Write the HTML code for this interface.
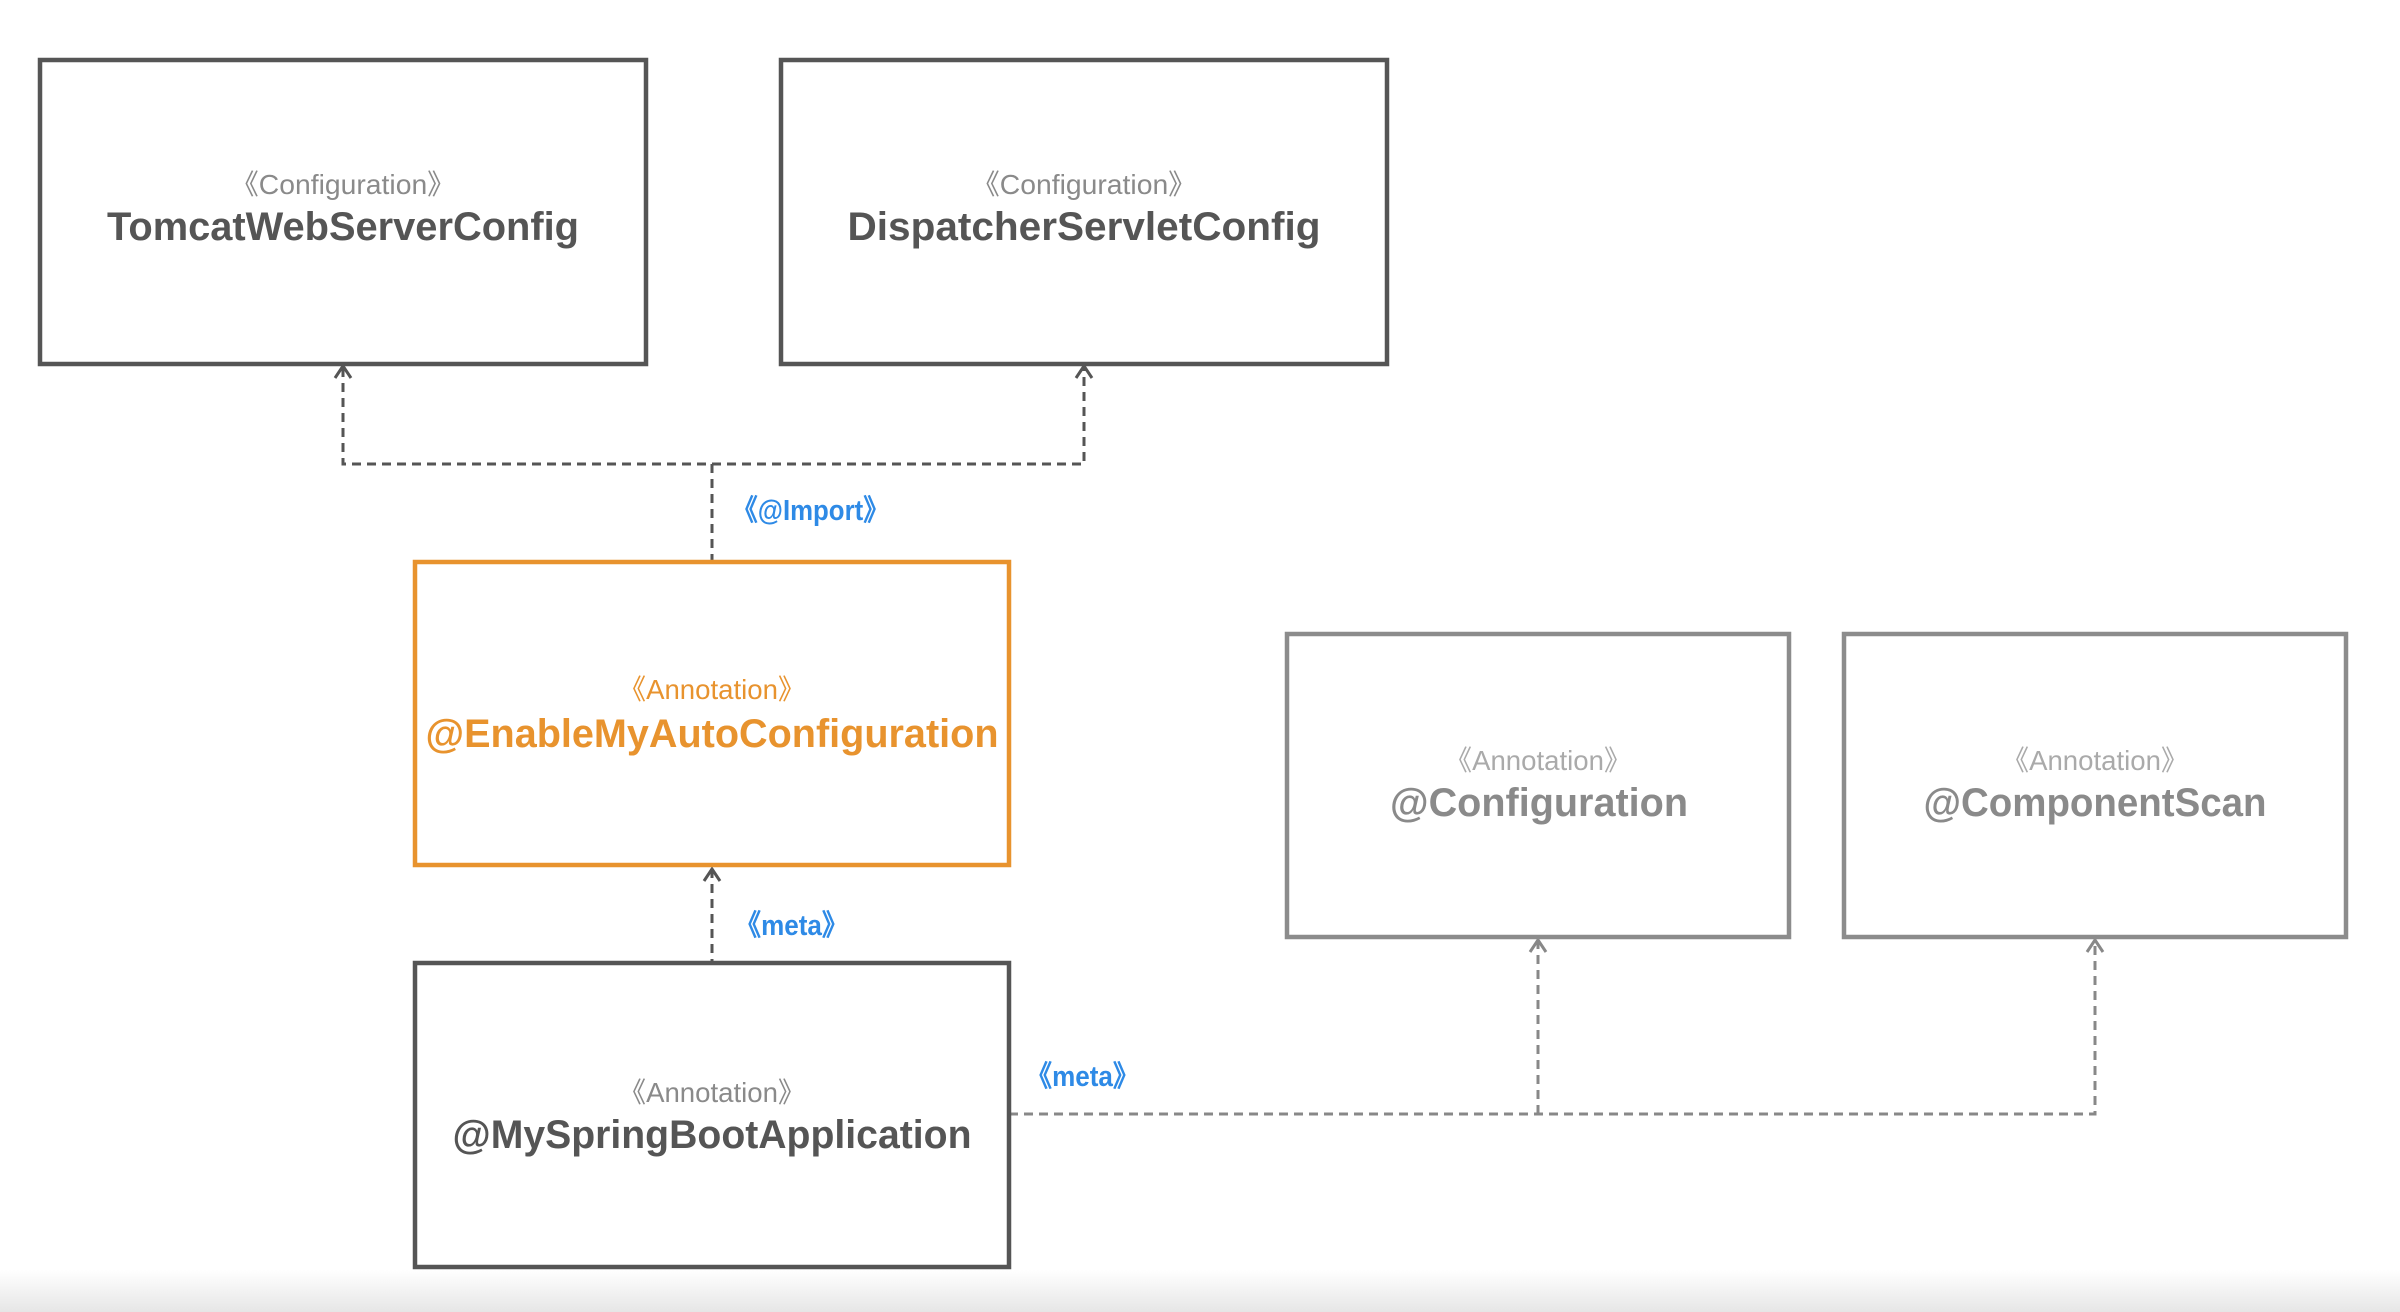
<!DOCTYPE html>
<html><head><meta charset="utf-8"><style>
html,body{margin:0;padding:0;background:#fff;width:2400px;height:1312px;overflow:hidden}
svg{display:block}
text{font-family:"Liberation Sans",sans-serif;text-anchor:middle}
text.lbl{text-anchor:start}
</style></head><body>
<svg width="2400" height="1312" viewBox="0 0 2400 1312">
<defs>
<linearGradient id="bg" x1="0" y1="0" x2="0" y2="1"><stop offset="0" stop-color="#fff"/><stop offset="1" stop-color="#e6e6e6"/></linearGradient>
</defs>
<rect x="0" y="1270" width="2400" height="42" fill="url(#bg)"/>
<g fill="none" stroke="#555" stroke-width="3" stroke-dasharray="9,6">
<polyline points="343,368 343,464 1084,464 1084,368"/>
<line x1="712" y1="464" x2="712" y2="562"/>
<line x1="712" y1="869" x2="712" y2="963"/>
</g>
<g fill="none" stroke="#888" stroke-width="3" stroke-dasharray="9,6">
<polyline points="1009,1114 2095,1114 2095,941"/>
<line x1="1538" y1="1114" x2="1538" y2="941"/>
</g>
<g fill="none" stroke="#555" stroke-width="3">
<polyline points="335,378 343,366 351,378"/>
<polyline points="1076,378 1084,366 1092,378"/>
<polyline points="704,881 712,869 720,881"/>
</g>
<g fill="none" stroke="#888" stroke-width="3">
<polyline points="1530,952 1538,940 1546,952"/>
<polyline points="2087,952 2095,940 2103,952"/>
</g>
<rect x="40" y="60" width="606" height="304" fill="none" stroke="#555" stroke-width="4.5"/>
<rect x="781" y="60" width="606" height="304" fill="none" stroke="#555" stroke-width="4.5"/>
<rect x="415" y="562" width="594" height="303" fill="none" stroke="#e8932e" stroke-width="4.5"/>
<rect x="415" y="963" width="594" height="304" fill="none" stroke="#555" stroke-width="4.5"/>
<rect x="1287" y="634" width="502" height="303" fill="none" stroke="#8c8c8c" stroke-width="4.5"/>
<rect x="1844" y="634" width="502" height="303" fill="none" stroke="#8c8c8c" stroke-width="4.5"/>
<g font-size="28" fill="#8a8a8a">
<text x="343" y="194" textLength="225" lengthAdjust="spacingAndGlyphs">《Configuration》</text>
<text x="1084" y="194" textLength="225" lengthAdjust="spacingAndGlyphs">《Configuration》</text>
<text x="712" y="1102" textLength="187" lengthAdjust="spacingAndGlyphs">《Annotation》</text>
</g>
<g font-size="28" fill="#aaa">
<text x="1538" y="770" textLength="187" lengthAdjust="spacingAndGlyphs">《Annotation》</text>
<text x="2095" y="770" textLength="187" lengthAdjust="spacingAndGlyphs">《Annotation》</text>
</g>
<text x="712" y="699" font-size="28" fill="#e8932e" textLength="187" lengthAdjust="spacingAndGlyphs">《Annotation》</text>
<g font-size="40" font-weight="bold" fill="#555">
<text x="343" y="240" textLength="472" lengthAdjust="spacingAndGlyphs">TomcatWebServerConfig</text>
<text x="1084" y="240" textLength="473" lengthAdjust="spacingAndGlyphs">DispatcherServletConfig</text>
<text x="712" y="1148" textLength="519" lengthAdjust="spacingAndGlyphs">@MySpringBootApplication</text>
</g>
<text x="712" y="747" font-size="40" font-weight="bold" fill="#e8932e" textLength="573" lengthAdjust="spacingAndGlyphs">@EnableMyAutoConfiguration</text>
<g font-size="40" font-weight="bold" fill="#8a8a8a">
<text x="1539" y="816" textLength="298" lengthAdjust="spacingAndGlyphs">@Configuration</text>
<text x="2095" y="816" textLength="343" lengthAdjust="spacingAndGlyphs">@ComponentScan</text>
</g>
<g font-size="29" font-weight="bold" fill="#2e8ae6">
<text class="lbl" style="text-anchor:start" x="732" y="520" textLength="157" lengthAdjust="spacingAndGlyphs">《@Import》</text>
<text class="lbl" style="text-anchor:start" x="735" y="935" textLength="113" lengthAdjust="spacingAndGlyphs">《meta》</text>
<text class="lbl" style="text-anchor:start" x="1026" y="1086" textLength="113" lengthAdjust="spacingAndGlyphs">《meta》</text>
</g>
</svg>
</body></html>
